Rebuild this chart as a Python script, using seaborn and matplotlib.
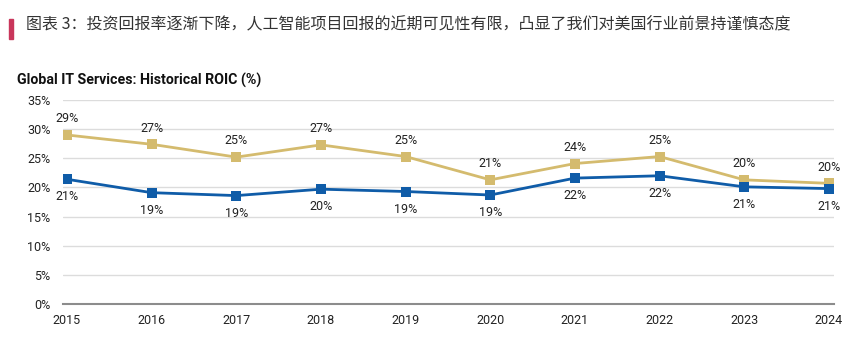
import matplotlib
matplotlib.use("Agg")
import matplotlib.pyplot as plt
import seaborn as sns
import pandas as pd

years = ["2015", "2016", "2017", "2018", "2019", "2020", "2021", "2022", "2023", "2024"]
gold_vals = [29.0, 27.4, 25.2, 27.3, 25.3, 21.3, 24.1, 25.3, 21.3, 20.7]
blue_vals = [21.4, 19.1, 18.6, 19.7, 19.3, 18.7, 21.6, 22.0, 20.1, 19.8]
gold_labels = ["29%", "27%", "25%", "27%", "25%", "21%", "24%", "25%", "20%", "20%"]
blue_labels = ["21%", "19%", "19%", "20%", "19%", "19%", "22%", "22%", "21%", "21%"]
yticks = [0, 5, 10, 15, 20, 25, 30, 35]

title_cn = "图表 3：投资回报率逐渐下降，人工智能项目回报的近期可见性有限，凸显了我们对美国行业前景持谨慎态度"
chart_title = "Global IT Services: Historical ROIC (%)"

GOLD = "#D4BB6E"
BLUE = "#0F5CA8"

sns.set_theme(style="white")
plt.rcParams['font.family'] = ['Roboto', 'Noto Sans CJK SC', 'DejaVu Sans']

df = pd.DataFrame({
    "x": list(range(len(years))) * 2,
    "value": gold_vals + blue_vals,
    "series": ["gold"] * len(years) + ["blue"] * len(years),
})

fig = plt.figure(figsize=(8.64, 3.38), dpi=100)
ax = fig.add_axes([63 / 864, 1 - 304 / 338, (834 - 63) / 864, (304 - 100) / 338])

sns.lineplot(data=df, x="x", y="value", hue="series", palette={"gold": GOLD, "blue": BLUE},
             marker="s", markersize=7, markeredgewidth=0, linewidth=2.0, ax=ax, legend=False)

for i, (g, b) in enumerate(zip(gold_vals, blue_vals)):
    ax.annotate(gold_labels[i], (i, g), xytext=(0, 7), textcoords="offset points",
                ha="center", va="bottom", fontsize=9, color="#222222")
    ax.annotate(blue_labels[i], (i, b), xytext=(0, -8), textcoords="offset points",
                ha="center", va="top", fontsize=9, color="#222222")

ax.set_xlim(-0.047, 9.06)
ax.set_ylim(0, 35)
ax.set_yticks(yticks)
ax.set_yticklabels([f"{t}%" for t in yticks])
ax.set_xticks(range(len(years)))
ax.set_xticklabels(years)
ax.set_xlabel("")
ax.set_ylabel("")
ax.tick_params(axis="both", length=0, labelsize=9, colors="#222222")
ax.tick_params(axis="x", pad=7)
ax.tick_params(axis="y", pad=9)
for t in yticks[1:]:
    ax.axhline(t, color="#DCDCDC", linewidth=1.0, zorder=0)
for s in ["top", "right", "left"]:
    ax.spines[s].set_visible(False)
ax.spines["bottom"].set_color("#8C8C8C")
ax.spines["bottom"].set_linewidth(1.5)

# header
fig.patches.append(plt.Rectangle((9 / 864, 1 - 39 / 338), 4 / 864, 20 / 338,
                                 transform=fig.transFigure, color="#C9365B"))
fig.text(26 / 864, 1 - 25 / 338, title_cn, fontsize=11.5, va="center", ha="left",
         color="#333333", family=['Noto Sans CJK SC', 'DejaVu Sans'])
fig.text(17 / 864, 1 - 80 / 338, chart_title, fontsize=10.2, fontweight="bold",
         va="center", ha="left", color="#111111")

fig.savefig("out.png", dpi=100)
